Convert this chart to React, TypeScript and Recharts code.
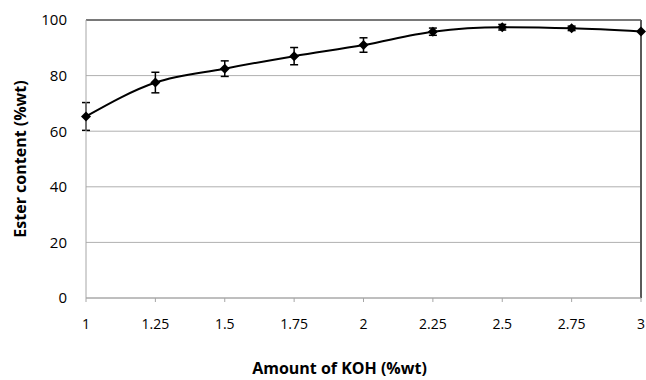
import React from "react";
import {
  LineChart,
  Line,
  XAxis,
  YAxis,
  CartesianGrid,
  ErrorBar,
  ReferenceLine,
} from "recharts";

// KOH loading (%wt) vs. ester content, with standard deviation
const kohAmounts = [1, 1.25, 1.5, 1.75, 2, 2.25, 2.5, 2.75, 3];
const esterContent = [65.3, 77.5, 82.5, 87, 91, 95.8, 97.4, 97, 95.9];
const esterError = [5, 3.7, 2.8, 3.1, 2.6, 1.3, 1, 0.8, 0];
const xTicks = [1, 1.25, 1.5, 1.75, 2, 2.25, 2.5, 2.75, 3];
const yTicks = [0, 20, 40, 60, 80, 100];

const data = kohAmounts.map((x, i) => ({
  koh: x,
  ester: esterContent[i],
  err: esterError[i],
}));

const FONT = "'Open Sans', 'Liberation Sans', sans-serif";

const Diamond = (props: any) => {
  const { cx, cy } = props;
  if (cx == null || cy == null) return null;
  const r = 5;
  return (
    <polygon
      points={`${cx},${cy - r} ${cx + r},${cy} ${cx},${cy + r} ${cx - r},${cy}`}
      fill="#000"
    />
  );
};

const App: React.FC = () => {
  return (
    <div style={{ position: "absolute", top: 0, left: 0, background: "#fff" }}>
      <LineChart
        width={646}
        height={380}
        data={data}
        margin={{ top: 20, right: 5, left: 0, bottom: 0 }}
      >
        <CartesianGrid vertical={false} stroke="#b0b0b0" strokeWidth={1} />
        <XAxis
          dataKey="koh"
          type="number"
          domain={[1, 3]}
          ticks={xTicks}
          height={82}
          stroke="#a6a6a6"
          tickSize={4}
          tickMargin={17}
          tick={{ fill: "#000", fontSize: 14, fontFamily: FONT }}
          label={{
            value: "Amount of KOH (%wt)",
            position: "insideBottom",
            offset: 6,
            dx: -24,
            style: { fill: "#000", fontSize: 16, fontWeight: 700, fontFamily: FONT },
          }}
        />
        <YAxis
          domain={[0, 100]}
          ticks={yTicks}
          width={86}
          stroke="#a6a6a6"
          tickLine={false}
          tickSize={6}
          tickMargin={13}
          tick={{ fill: "#000", fontSize: 15, fontFamily: FONT }}
          label={{
            value: "Ester content (%wt)",
            angle: -90,
            position: "insideLeft",
            offset: 20,
            style: {
              fill: "#000",
              fontSize: 16,
              fontWeight: 700,
              fontFamily: FONT,
              textAnchor: "middle",
            },
          }}
        />
        <ReferenceLine y={100} stroke="#1a1a1a" strokeWidth={1} />
        <ReferenceLine x={3} stroke="#5a5a5a" strokeWidth={2} />
        <Line
          dataKey="ester"
          type="monotone"
          stroke="#000"
          strokeWidth={2}
          dot={<Diamond />}
          activeDot={false}
          isAnimationActive={false}
        >
          <ErrorBar
            dataKey="err"
            width={4}
            stroke="#000"
            strokeWidth={1.5}
            direction="y"
          />
        </Line>
      </LineChart>
    </div>
  );
};

export default App;
